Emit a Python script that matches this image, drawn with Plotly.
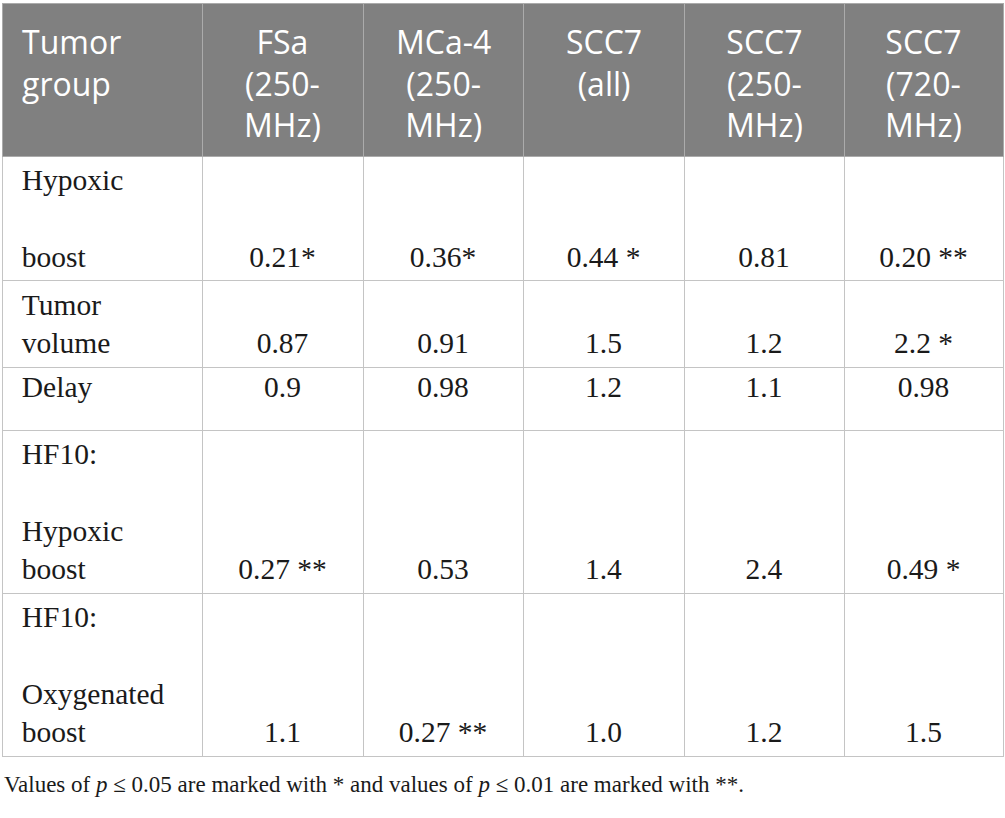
import plotly.graph_objects as go

# Column headers and row data
header_labels = ["Tumor<br>group", "FSa<br>(250-<br>MHz)", "MCa-4<br>(250-<br>MHz)",
                 "SCC7<br>(all)", "SCC7<br>(250-<br>MHz)", "SCC7<br>(720-<br>MHz)"]

# label lines as wrapped in the source ("" = extra gap line)
row_labels = [["Hypoxic", "", "boost"],
              ["Tumor", "volume"],
              ["Delay"],
              ["HF10:", "", "Hypoxic", "boost"],
              ["HF10:", "", "Oxygenated", "boost"]]

fsa_250 = ["0.21*", "0.87", "0.9", "0.27 **", "1.1"]
mca4_250 = ["0.36*", "0.91", "0.98", "0.53", "0.27 **"]
scc7_all = ["0.44 *", "1.5", "1.2", "1.4", "1.0"]
scc7_250 = ["0.81", "1.2", "1.1", "2.4", "1.2"]
scc7_720 = ["0.20 **", "2.2 *", "0.98", "0.49 *", "1.5"]

footnote = ("Values of <i>p</i> ≤ 0.05 are marked with * and values of "
            "<i>p</i> ≤ 0.01 are marked with **.")

col_widths = [200, 161, 160, 161, 160, 159]

NB = "\u00a0"
PAD = "\u2009\u2009"
label_text = ["<br>".join(PAD + s if s else NB for s in lines) for lines in row_labels]
n_lines = [len(lines) for lines in row_labels]


def bottom(col):
    # value sits on the last line of the row label
    return [(NB + "<br>") * (n - 1) + v for v, n in zip(col, n_lines)]


cell_values = [label_text] + [bottom(c) for c in [fsa_250, mca4_250, scc7_all, scc7_250, scc7_720]]

fig = go.Figure(go.Table(
    columnwidth=col_widths,
    header=dict(
        values=[""] * len(header_labels),
        fill_color="#808080",
        line_color="#ababab",
        height=153,
    ),
    cells=dict(
        values=cell_values,
        fill_color="white",
        line_color="#c4c4c4",
        align=["left", "center", "center", "center", "center", "center"],
        font=dict(family="Liberation Serif", size=29.5, color="#1a1a1a"),
        height=63,
    ),
    domain=dict(x=[0, 1], y=[0, 1]),
))

# header text, each line centred in its column
total = sum(col_widths)
left = 0
for i, (lab, w) in enumerate(zip(header_labels, col_widths)):
    if i == 0:
        x, anchor = 18 / total, "left"
    else:
        x, anchor = (left + w / 2) / total, "center"
    fig.add_annotation(
        text=lab, xref="paper", yref="paper", x=x, y=0.982,
        xanchor=anchor, yanchor="top", align=anchor, showarrow=False,
        font=dict(family="Open Sans", size=32, color="white"),
    )
    left += w

fig.add_annotation(
    text=footnote, xref="paper", yref="paper", x=0, y=0.0405,
    xanchor="left", yanchor="middle", showarrow=False,
    font=dict(family="Liberation Serif", size=23, color="#1a1a1a"),
)

fig.update_layout(
    width=1005, height=818,
    margin=dict(l=2, r=2, t=3, b=0),
    paper_bgcolor="white",
)

fig.write_html("out.html", config={"displayModeBar": False},
               post_script="document.body.style.margin='0';"
                           "document.body.style.overflow='hidden';")
